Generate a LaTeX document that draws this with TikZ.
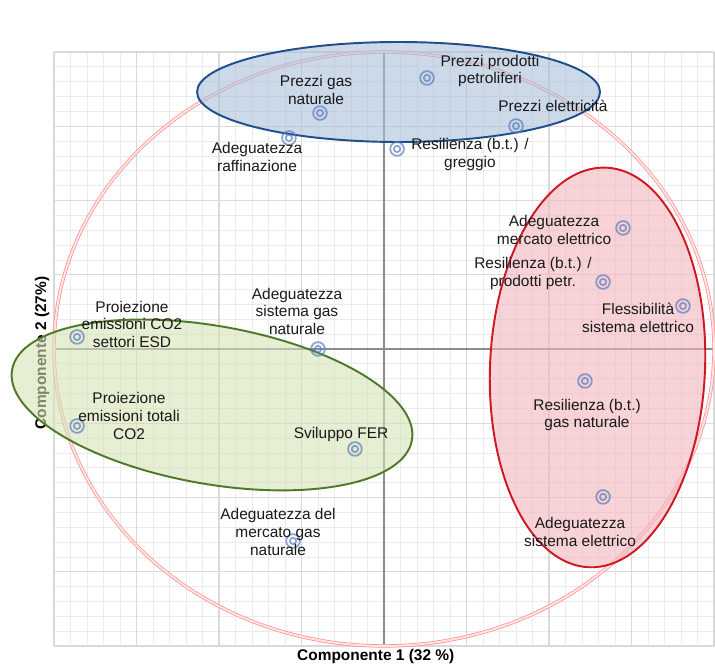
\documentclass[tikz,border=0pt]{standalone}
\usepackage{fontspec}
\setmainfont{Liberation Sans}

\definecolor{mk}{RGB}{90,125,190}
\definecolor{bluefill}{RGB}{169,191,218}
\definecolor{blueline}{RGB}{31,78,138}
\definecolor{redfill}{RGB}{242,182,189}
\definecolor{redline}{RGB}{208,23,34}
\definecolor{greenfill}{RGB}{213,226,181}
\definecolor{greenline}{RGB}{78,122,39}

\begin{document}
\begin{tikzpicture}[x=1.65cm, y=1.485cm]
        \tikzstyle{minorgrid}=[draw=black!8, line width=0.4pt]
        \tikzstyle{majorgrid}=[draw=black!15, line width=0.8pt]
        \tikzstyle{axisline}=[draw=black!45, line width=0.8pt]
        \tikzstyle{circle1}=[draw=red!45, double=red!10, double distance=1.1pt, line width=0.4pt]
        \tikzstyle{group}=[line width=1.1pt, fill opacity=0.6]
        \tikzstyle{point}=[circle, draw=mk, draw opacity=0.7, line width=1pt,
            minimum size=7.8pt, inner sep=0pt,
            path picture={\draw[mk, draw opacity=0.7, line width=1pt]
                (path picture bounding box.center) circle (1.8pt);}]
        \tikzstyle{lbl}=[align=center, inner sep=0pt, text=black!90,
            font=\fontsize{8.8}{10.2}\selectfont]
        \tikzstyle{axlbl}=[inner sep=0pt, font=\fontsize{8.8}{10.2}\selectfont\bfseries]

        \useasboundingbox (-4.655,-4.256) rectangle (4.012,4.700);

        % Draw grid
        \draw[minorgrid] (-4,-4) grid[step=0.2] (4,4);
        \draw[majorgrid] (-4,-4) grid[step=1] (4,4);

        % Add axes
        \draw[axisline] (-4,0) -- (4,0);
        \draw[axisline] (0,-4) -- (0,4);
        \node[axlbl] (xlabel) at (-0.1,-4.148) {Componente 1 (32 \%)};
        \node[axlbl, rotate=90] (ylabel) at (-4.145,-0.054) {Componente 2 (27\%)};

        % Correlation circle
        \draw[circle1] (0,0) ellipse [x radius=6.6cm, y radius=5.94cm];

        % Groups
        \draw[group, draw=blueline, fill=bluefill] (0.176,3.461) ellipse [x radius=4.03cm, y radius=1cm];
        \draw[group, draw=redline, fill=redfill, rotate around={-2.5:(2.588,-0.249)}]
            (2.588,-0.249) ellipse [x radius=2.15cm, y radius=4cm];
        \draw[group, draw=greenline, fill=greenfill, rotate around={-10:(-2.085,-0.754)}]
            (-2.085,-0.754) ellipse [x radius=4.06cm, y radius=1.58cm];

        % Add variables
        \node[point] (gasprice) at (-0.776,3.178) {};
        \node[lbl] (gaspricel) at (-0.824,3.488) {Prezzi gas\\naturale};
        \node[point] (raff) at (-1.152,2.842) {};
        \node[lbl] (raffl) at (-1.539,2.586) {Adeguatezza\\raffinazione};
        \node[point] (oilprice) at (0.521,3.650) {};
        \node[lbl] (oilpricel) at (1.285,3.744) {Prezzi prodotti\\petroliferi};
        \node[point] (elprice) at (1.600,3.003) {};
        \node[lbl] (elpricel) at (2.048,3.273) {Prezzi elettricità};
        \node[point] (crude) at (0.158,2.694) {};
        \node[lbl] (crudel) at (1.042,2.613) {Resilienza (b.t.) /\\greggio};

        \node[point] (elmarket) at (2.897,1.630) {};
        \node[lbl] (elmarketl) at (2.061,1.603) {Adeguatezza\\mercato elettrico};
        \node[point] (oilprod) at (2.655,0.902) {};
        \node[lbl] (oilprodl) at (1.806,1.017) {Resilienza (b.t.) /\\prodotti petr.};
        \node[point] (flex) at (3.624,0.579) {};
        \node[lbl] (flexl) at (3.079,0.424) {Flessibilità\\sistema elettrico};
        \node[point] (gasres) at (2.436,-0.431) {};
        \node[lbl] (gasresl) at (2.461,-0.889) {Resilienza (b.t.)\\gas naturale};
        \node[point] (elsys) at (2.655,-1.993) {};
        \node[lbl] (elsysl) at (2.376,-2.471) {Adeguatezza\\sistema elettrico};

        \node[point] (gassys) at (-0.800,0) {};
        \node[lbl] (gassysl) at (-1.055,0.505) {Adeguatezza\\sistema gas\\naturale};
        \node[point] (esd) at (-3.721,0.162) {};
        \node[lbl] (esdl) at (-3.055,0.330) {Proiezione\\emissioni CO2\\settori ESD};
        \node[point] (co2) at (-3.721,-1.037) {};
        \node[lbl] (co2l) at (-3.091,-0.902) {Proiezione\\emissioni totali\\CO2};
        \node[point] (fer) at (-0.352,-1.347) {};
        \node[lbl] (ferl) at (-0.521,-1.158) {Sviluppo FER};
        \node[point] (gasmarket) at (-1.103,-2.586) {};
        \node[lbl] (gasmarketl) at (-1.285,-2.465) {Adeguatezza del\\mercato gas\\naturale};
    \end{tikzpicture}
\end{document}
